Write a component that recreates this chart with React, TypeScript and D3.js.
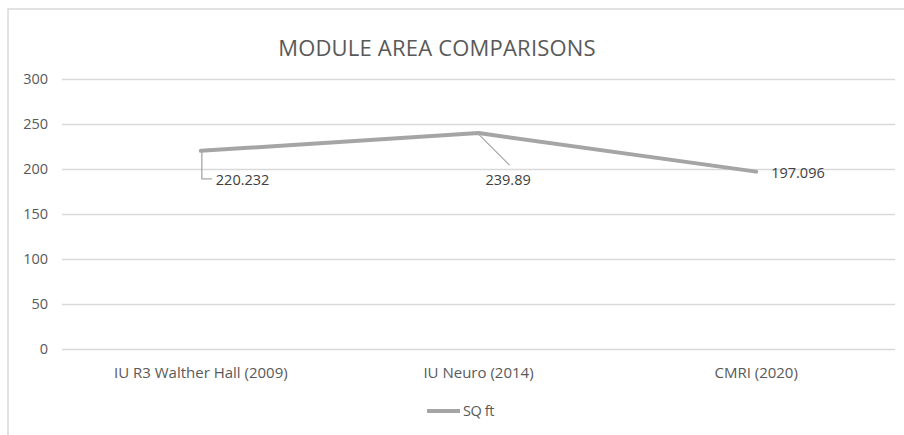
import { useEffect, useRef } from "react";
import * as d3 from "d3";

const categories = ["IU R3 Walther Hall (2009)", "IU Neuro (2014)", "CMRI (2020)"];
const sqFt = [220.232, 239.89, 197.096];
const yTicks = [0, 50, 100, 150, 200, 250, 300];
const seriesName = "SQ ft";
const title = "MODULE AREA COMPARISONS";

const width = 904;
const height = 435;
const marginLeft = 62;
const marginRight = 9;
const plotTop = 79;
const plotBottom = 349;

const font = "'Open Sans', sans-serif";
const textColor = "#595959";

const App = () => {
  const axisRef = useRef<SVGGElement>(null);

  const xScale = d3
    .scaleBand()
    .domain(categories)
    .range([marginLeft, width - marginRight]);

  const yScale = d3.scaleLinear().domain([0, 300]).range([plotBottom, plotTop]);

  const cx = (i: number) => (xScale(categories[i]) ?? 0) + xScale.bandwidth() / 2;

  const line = d3
    .line<number>()
    .x((_, i) => cx(i))
    .y((d) => yScale(d));

  useEffect(() => {
    const yAxis = d3
      .axisLeft(yScale)
      .tickValues(yTicks)
      .tickSize(-(width - marginRight - marginLeft))
      .tickPadding(14);
    const g = d3.select(axisRef.current);
    g.call(yAxis);
    g.select(".domain").remove();
    g.selectAll(".tick line").attr("stroke", "#d9d9d9").attr("stroke-width", 1.3);
    g.selectAll(".tick text")
      .attr("fill", textColor)
      .attr("font-size", 14.5)
      .attr("font-family", font);
  }, []);

  // data label placement relative to each point
  const labels = sqFt.map((v, i) => {
    const x = cx(i);
    const y = yScale(v);
    if (i === 0) {
      return {
        path: `M${x + 1},${y + 1}V${y + 28}H${x + 11}`,
        tx: x + 15,
        ty: y + 34,
      };
    }
    if (i === 1) {
      return {
        path: `M${x},${y + 1}L${x + 31},${y + 32}`,
        tx: x + 7,
        ty: y + 52,
      };
    }
    return { path: "", tx: x + 15, ty: y + 6 };
  });

  return (
    <svg width={width} height={height} style={{ position: "absolute", left: 0, top: 0 }}>
      <rect width={width} height={height} fill="#fff" />
      <path d={`M8,${height}V9H${width}`} fill="none" stroke="#d9d9d9" strokeWidth={1.5} />
      <text
        x={437}
        y={56}
        textAnchor="middle"
        fontFamily={font}
        fontSize={22}
        fill={textColor}
        letterSpacing={0.2}
      >
        {title}
      </text>
      <g ref={axisRef} transform={`translate(${marginLeft},0)`} />
      <path
        d={line(sqFt) ?? ""}
        fill="none"
        stroke="#a5a5a5"
        strokeWidth={4}
        strokeLinejoin="round"
        strokeLinecap="round"
      />
      {labels.map((l, i) => (
        <g key={categories[i]}>
          {l.path && <path d={l.path} fill="none" stroke="#a6a6a6" strokeWidth={1.3} />}
          <text x={l.tx} y={l.ty} fontFamily={font} fontSize={14.5} fill="#404040">
            {sqFt[i]}
          </text>
        </g>
      ))}
      {categories.map((c, i) => (
        <text
          key={c}
          x={cx(i)}
          y={378}
          textAnchor="middle"
          fontFamily={font}
          fontSize={15}
          fill={textColor}
        >
          {c}
        </text>
      ))}
      <g transform="translate(427,411)">
        <line x1={0} x2={33} stroke="#a5a5a5" strokeWidth={4} />
        <text x={36} y={5} fontFamily={font} fontSize={14.5} fill={textColor} letterSpacing={-0.4}>
          {seriesName}
        </text>
      </g>
    </svg>
  );
};

export default App;
